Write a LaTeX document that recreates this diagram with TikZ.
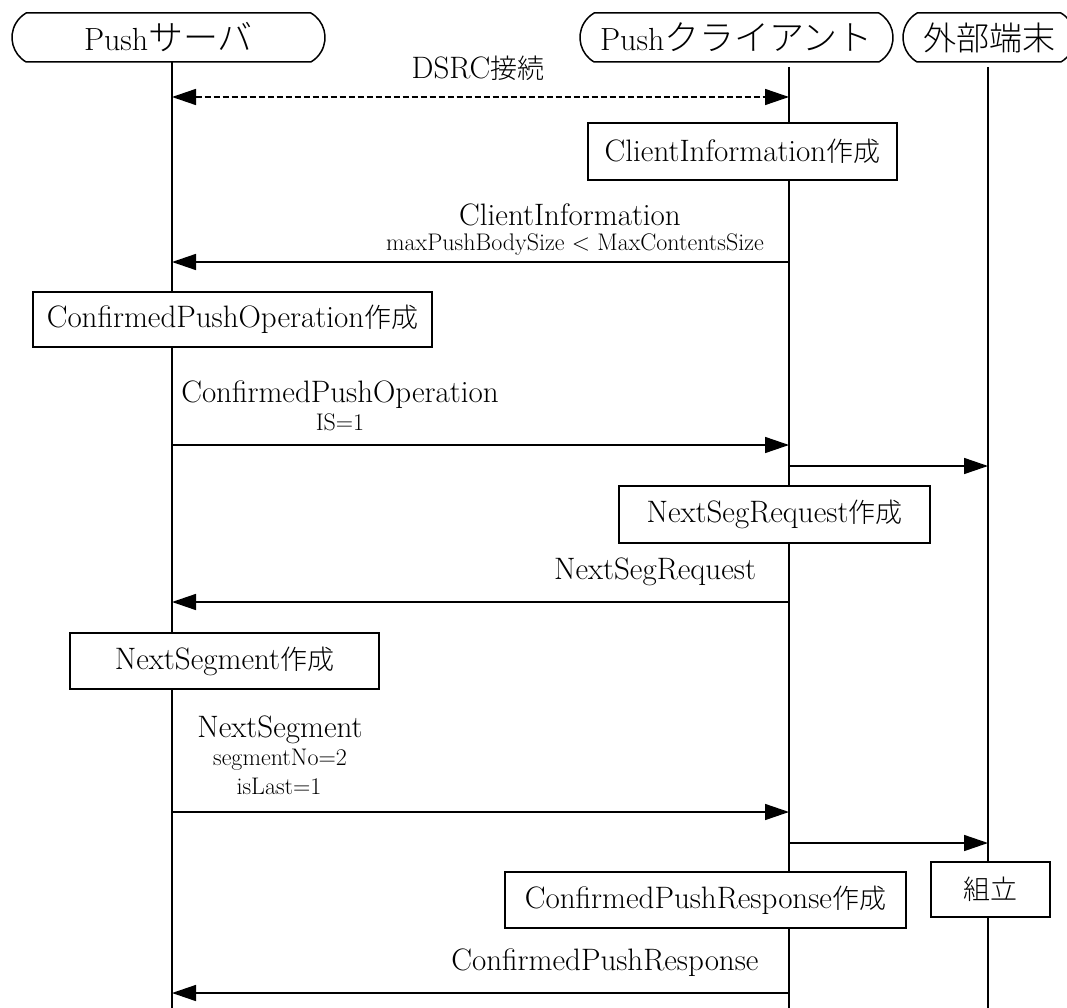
\documentclass[tikz,border=0pt]{standalone}
\usepackage{fontspec}
\newfontfamily\jpf{Noto Sans CJK JP Light}
\newcommand\jpm[1]{{\jpf\fontsize{27}{30}\selectfont #1}}
\newcommand\jph[1]{{\jpf\fontsize{35}{38}\selectfont #1}}
\usetikzlibrary{arrows.meta,shapes.misc}
\tikzset{
  ln/.style={line width=1.5pt},
  hdr/.style={rounded rectangle, rounded rectangle arc length=120, draw, line width=1.5pt,
    minimum height=49pt, inner sep=0pt, font=\fontsize{32}{36}\selectfont},
  actbox/.style={draw, line width=1.5pt, fill=white, inner sep=0pt, font=\fontsize{31}{34}\selectfont},
  lbl/.style={inner sep=0pt, font=\fontsize{31}{34}\selectfont},
  sml/.style={inner sep=0pt, font=\fontsize{24}{27}\selectfont},
  msg/.style={line width=1.5pt, -{Triangle[length=24pt,width=16pt]}},
  dmsg/.style={line width=1.5pt, dash pattern=on 6pt off 3pt, {Triangle[length=24pt,width=16pt]}-{Triangle[length=24pt,width=16pt]}},
}
\begin{document}
\begin{tikzpicture}[x=1pt,y=-1pt]
\useasboundingbox (0,0) rectangle (1067,1008);
% headers
\node[hdr, minimum width=313pt] (hs) at (168.5,37.5) {Push\jph{サーバ}};
\node[hdr, minimum width=313pt] (hc) at (736.5,37.5) {Push\jph{クライアント}};
\node[hdr, minimum width=172pt] (he) at (989,37.5) {{\jpf\fontsize{33}{36}\selectfont 外部端末}};
% lifeline ends
\coordinate (ls0) at (172,62);
\coordinate (lc0) at (789,67);
\coordinate (le0) at (988,67);
\coordinate (ls1) at (172,1008);
\coordinate (lc1) at (789,1008);
\coordinate (le1) at (988,1008);
\draw[ln] (ls0) -- (ls1);
\draw[ln] (lc0) -- (lc1);
\draw[ln] (le0) -- (le1);
% message points
\foreach \n/\y in {1/97,2/262,3/445,4/602,5/812,6/993}{
  \coordinate (s\n) at (172,\y);
  \coordinate (c\n) at (789,\y);
}
\coordinate (ca) at (789,466);
\coordinate (ea) at (988,466);
\coordinate (cb) at (789,843);
\coordinate (eb) at (988,843);
% DSRC
\node[lbl] (tdsrc) at (478,68) {DSRC\jpm{接続}};
\draw[dmsg] (s1) -- (c1);
% ClientInformation
\node[actbox, minimum width=309pt, minimum height=57pt] (b1) at (742.5,151.5) {ClientInformation\jpm{作成}};
\node[lbl] (t2) at (570,215) {ClientInformation};
\node[sml] (t2b) at (575,245) {maxPushBodySize < MaxContentsSize};
\draw[msg] (c2) -- (s2);
% ConfirmedPushOperation
\node[actbox, minimum width=399pt, minimum height=55pt] (b2) at (232.5,319.5) {ConfirmedPushOperation\jpm{作成}};
\node[lbl] (t3) at (340,395) {ConfirmedPushOperation};
\node[sml] (t3b) at (340,422) {IS=1};
\draw[msg] (s3) -- (c3);
\draw[msg] (ca) -- (ea);
% NextSegRequest
\node[actbox, minimum width=311pt, minimum height=57pt] (b3) at (774.5,514.5) {NextSegRequest\jpm{作成}};
\node[lbl] (t4) at (655,572) {NextSegRequest};
\draw[msg] (c4) -- (s4);
% NextSegment
\node[actbox, minimum width=309pt, minimum height=56pt] (b4) at (224.5,661) {NextSegment\jpm{作成}};
\node[lbl] (t5) at (280,730) {NextSegment};
\node[sml] (t5b) at (280,760) {segmentNo=2};
\node[sml] (t5c) at (279,786) {isLast=1};
\draw[msg] (s5) -- (c5);
\draw[msg] (cb) -- (eb);
% assembly and response
\node[actbox, minimum width=119pt, minimum height=55pt] (b5) at (990.5,889.5) {\jpm{組立}};
\node[actbox, minimum width=401pt, minimum height=56pt] (b6) at (705.5,900) {ConfirmedPushResponse\jpm{作成}};
\node[lbl] (t6) at (605,963) {ConfirmedPushResponse};
\draw[msg] (c6) -- (s6);
\end{tikzpicture}
\end{document}
